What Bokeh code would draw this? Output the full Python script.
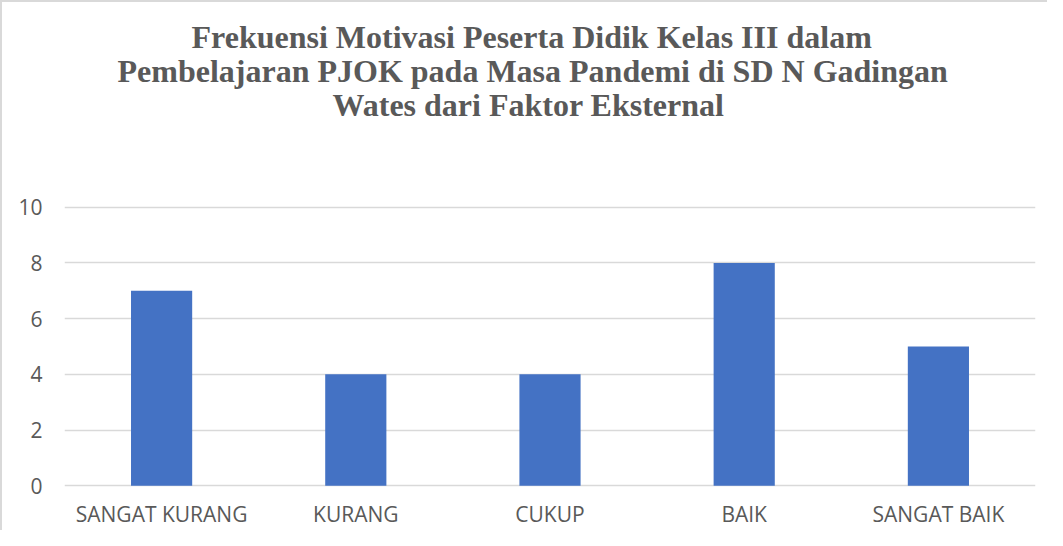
from bokeh.plotting import figure
from bokeh.models import Range1d, Title
from bokeh.embed import file_html
from bokeh.resources import INLINE

categories = ["SANGAT KURANG", "KURANG", "CUKUP", "BAIK", "SANGAT BAIK"]
values = [7, 4, 4, 8, 5]
y_ticks = [0, 2, 4, 6, 8, 10]
title_lines = [
    "Frekuensi Motivasi Peserta Didik Kelas III dalam",
    "Pembelajaran PJOK pada Masa Pandemi di SD N Gadingan",
    "Wates dari Faktor Eksternal",
]
title_offsets = [127, 53, 268]

TEXT = "#595959"
GRID = "#D9D9D9"
BAR = "#4472C4"

p = figure(
    x_range=categories,
    y_range=Range1d(-0.1, 10.1),
    width=1047,
    height=530,
    output_backend="svg",
    toolbar_location=None,
    min_border_left=62,
    min_border_right=14,
    min_border_top=202,
    min_border_bottom=44,
)
p.title = None
p.styles = {"border-left": "2px solid #D9D9D9", "border-top": "2px solid #D9D9D9"}

p.vbar(x=categories, top=values, width=0.315, color=BAR, line_color=None)

p.outline_line_color = None
p.xgrid.grid_line_color = None
p.ygrid.grid_line_color = GRID
p.ygrid.grid_line_width = 1.5
p.yaxis.ticker = y_ticks

for ax in (p.xaxis, p.yaxis):
    ax.axis_line_color = None
    ax.major_tick_line_color = None
    ax.minor_tick_line_color = None
    ax.major_tick_out = 0
    ax.major_tick_in = 0
    ax.minor_tick_out = 0
    ax.major_label_text_font = "Open Sans"
    ax.major_label_text_font_size = "21px"
    ax.major_label_text_color = TEXT
p.xaxis.major_label_standoff = 11
p.yaxis.major_label_standoff = 22

# spacer between title and plot area
p.add_layout(Title(text="\u00a0", text_font_size="10px", standoff=71), "above")
for line, off in reversed(list(zip(title_lines, title_offsets))):
    p.add_layout(Title(
        text=line, align="left", offset=off, standoff=-4,
        text_font="Liberation Serif", text_font_style="bold", text_font_size="32px",
        text_color=TEXT,
    ), "above")

open("out.html", "w").write(file_html(p, INLINE))
